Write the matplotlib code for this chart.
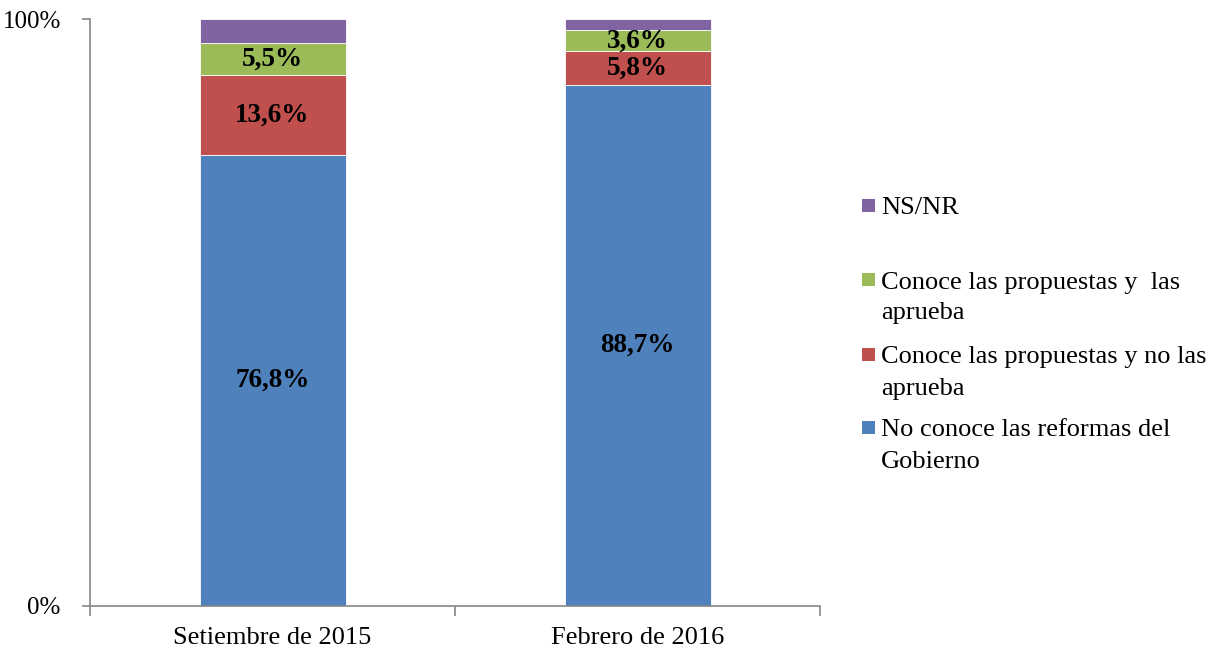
import matplotlib
matplotlib.use("Agg")
import matplotlib.pyplot as plt
from matplotlib.patches import Rectangle
import numpy as np

plt.rcParams['font.family'] = ['Liberation Serif', 'DejaVu Serif']

categories = ["Setiembre de 2015", "Febrero de 2016"]
series_names = ["No conoce las reformas del Gobierno",
                "Conoce las propuestas y no las aprueba",
                "Conoce las propuestas y  las aprueba",
                "NS/NR"]
no_conoce = [76.8, 88.7]
no_aprueba = [13.6, 5.8]
aprueba = [5.5, 3.6]
nsnr = [4.1, 1.9]
show_label = [True, True, True, False]
colors = ["#4F81BD", "#C0504D", "#9BBB59", "#8064A2"]
legend_lines = [["NS/NR"],
                ["Conoce las propuestas y  las", "aprueba"],
                ["Conoce las propuestas y no las", "aprueba"],
                ["No conoce las reformas del", "Gobierno"]]
legend_colors = ["#8064A2", "#9BBB59", "#C0504D", "#4F81BD"]

W, H = 1214, 652
fig = plt.figure(figsize=(W / 100, H / 100), dpi=100)
ax = fig.add_axes([90 / W, (H - 606) / H, (820 - 90) / W, (606 - 19) / H])

x = np.arange(len(categories))
bottom = np.zeros(len(categories))
for vals, col, show in zip([no_conoce, no_aprueba, aprueba, nsnr], colors, show_label):
    vals = np.array(vals)
    ax.bar(x, vals, width=0.4, bottom=bottom, color=col, edgecolor="white", linewidth=0.6, zorder=2)
    if show:
        for xi, b, v in zip(x, bottom, vals):
            ax.text(xi, b + v / 2, f"{v:.1f}%".replace(".", ","), ha="center", va="center",
                    fontsize=19.5, fontweight="bold", color="black", zorder=3)
    bottom += vals

ax.set_xlim(-0.5, 1.5)
ax.set_ylim(0, 100)
ax.set_yticks([0, 100])
ax.set_yticklabels(["0%", "100%"], fontsize=18)
ax.set_xticks(x)
ax.set_xticklabels(categories, fontsize=19)
ax.set_xticks([-0.5, 0.5, 1.5], minor=True)
ax.tick_params(axis="x", which="major", length=0, pad=15)
ax.tick_params(axis="x", which="minor", length=7, color="#868686", width=1.2)
ax.tick_params(axis="y", which="major", length=6, color="#868686", width=1.2, pad=15)

for s in ["top", "right"]:
    ax.spines[s].set_visible(False)
for s in ["left", "bottom"]:
    ax.spines[s].set_color("#868686")
    ax.spines[s].set_linewidth(1.2)

# legend (manual, Excel style)
first_line_y = [206, 280, 355, 428]
for lines, col, yc in zip(legend_lines, legend_colors, first_line_y):
    fig.patches.append(Rectangle((862 / W, (H - yc - 6) / H), 13 / W, 13 / H,
                                 transform=fig.transFigure, facecolor=col, edgecolor="none"))
    for i, ln in enumerate(lines):
        fig.text(881 / W, (H - (yc + 31 * i)) / H, ln, fontsize=19, ha="left", va="center_baseline")

fig.savefig("out.png", dpi=100)
